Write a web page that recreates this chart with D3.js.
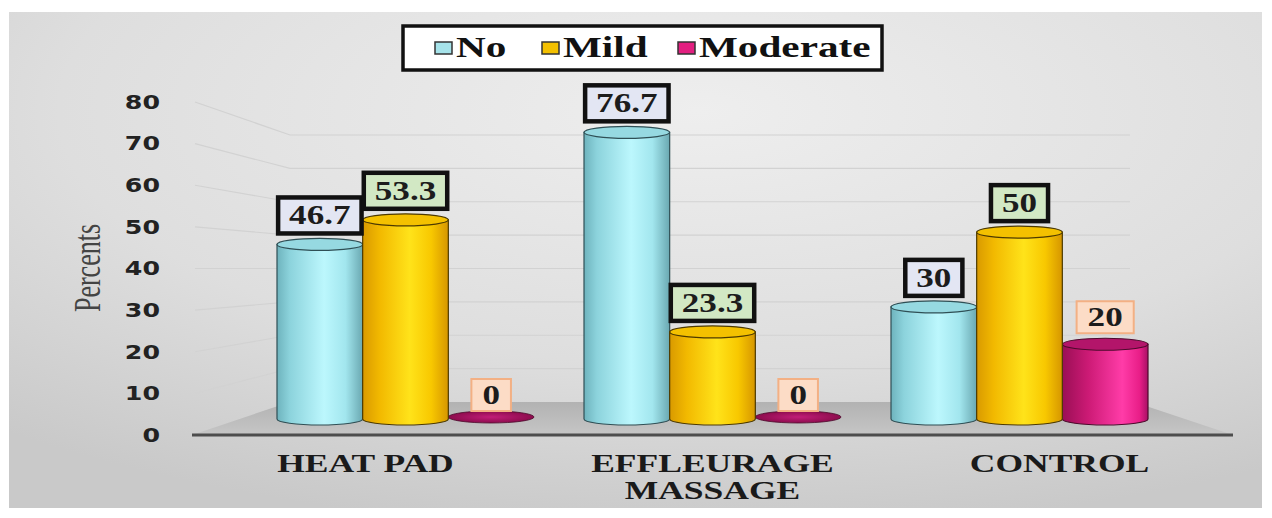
<!DOCTYPE html>
<html><head><meta charset="utf-8">
<script src="https://cdn.jsdelivr.net/npm/d3@7/dist/d3.min.js"></script>
<style>html,body{margin:0;padding:0;background:#fff;}svg{display:block;}</style>
</head><body>
<svg id="c" width="1272" height="518"></svg>
<script>
// ---- data ----
const categories = ["HEAT PAD", "EFFLEURAGE MASSAGE", "CONTROL"];
const categoryLines = [["HEAT PAD"], ["EFFLEURAGE", "MASSAGE"], ["CONTROL"]];
const seriesNames = ["No", "Mild", "Moderate"];
const noValues = [46.7, 76.7, 30];
const mildValues = [53.3, 23.3, 50];
const moderateValues = [0, 0, 20];
const yTicks = [0, 10, 20, 30, 40, 50, 60, 70, 80];
const yTitle = "Percents";

const seriesValues = [noValues, mildValues, moderateValues];
const HS = 1.42; // horizontal stretch of the source picture

const svg = d3.select("#c");
const defs = svg.append("defs");

// background
const bg = defs.append("radialGradient").attr("id", "bg").attr("cx", "0.55").attr("cy", "0.2").attr("r", "0.85");
bg.append("stop").attr("offset", "0").attr("stop-color", "#eeeeee");
bg.append("stop").attr("offset", "0.6").attr("stop-color", "#dedede");
bg.append("stop").attr("offset", "1").attr("stop-color", "#c9c9c9");
svg.append("rect").attr("x", 9).attr("y", 12).attr("width", 1253).attr("height", 496).attr("fill", "url(#bg)");

// scales
const yFront = d3.scaleLinear().domain([0, 80]).range([435, 102]);
const yBack = d3.scaleLinear().domain([0, 80]).range([402, 135]);
const yBar = d3.scaleLinear().domain([0, 80]).range([419, 120]);
const xFront = d3.scaleBand().domain(categories).range([192, 1233]);
const xBack = d3.scaleBand().domain(categories).range([252, 1173]);
const xSeries = d3.scaleBand().domain(seriesNames).range([25, xBack.bandwidth() - 25]);

const wallLeftFront = 195, wallLeftBack = 290, wallRightBack = 1130;

// gridlines (side wall + back wall)
const grid = svg.append("g");
yTicks.filter(v => v > 0).forEach(v => {
  grid.append("path")
    .attr("d", `M${wallLeftFront},${yFront(v)}L${wallLeftBack},${yBack(v)}L${wallRightBack},${yBack(v)}`)
    .attr("fill", "none").attr("stroke", "#d2d2d2").attr("stroke-width", 1.2);
});

// floor
const fl = defs.append("linearGradient").attr("id", "floor").attr("x1", 0).attr("y1", 0).attr("x2", 0).attr("y2", 1);
fl.append("stop").attr("offset", "0").attr("stop-color", "#b2b2b2");
fl.append("stop").attr("offset", "1").attr("stop-color", "#c6c6c6");
const x0 = xFront.range()[0], x1 = xFront.range()[1];
svg.append("path")
  .attr("d", `M${x0},${yFront(0)}L${x1},${yFront(0)}L${1134},${yBack(0)}L${wallLeftBack},${yBack(0)}Z`)
  .attr("fill", "url(#floor)");
svg.append("line").attr("x1", x0).attr("x2", x1).attr("y1", yFront(0)).attr("y2", yFront(0))
  .attr("stroke", "#4d4d4d").attr("stroke-width", 3);

// y axis labels
const yAxisG = svg.append("g");
yTicks.forEach(v => {
  const t = yAxisG.append("text").attr("x", 160).attr("y", yFront(v)).attr("dy", "0.36em")
    .attr("text-anchor", "end").attr("font-family", "DejaVu Sans").attr("font-weight", "bold")
    .attr("font-size", 19).attr("fill", "#222").text(v);
  const w = t.node().getComputedTextLength();
  t.attr("textLength", w * 1.33).attr("lengthAdjust", "spacingAndGlyphs");
});

// y title
svg.append("text").attr("transform", `translate(100,268) scale(${HS},1) rotate(-90)`)
  .attr("text-anchor", "middle").attr("font-family", "Liberation Serif").attr("font-size", 26)
  .attr("fill", "#444").text(yTitle);

// category labels
categoryLines.forEach((lines, i) => {
  lines.forEach((ln, j) => {
    const t = svg.append("text").attr("x", xFront(categories[i]) + xFront.bandwidth() / 2)
      .attr("y", 472 + j * 27).attr("text-anchor", "middle")
      .attr("font-family", "Liberation Serif").attr("font-weight", "bold").attr("font-size", 25)
      .attr("fill", "#1a1a1a").text(ln);
    const w = t.node().getComputedTextLength();
    t.attr("textLength", w * HS).attr("lengthAdjust", "spacingAndGlyphs");
  });
});

// cylinder gradients
const grads = [
  {id: "gNo", stops: [[0, "#6eb3bd"], [0.15, "#8cd3dc"], [0.55, "#bcf7fd"], [0.8, "#a2e6ee"], [1, "#6aa8b1"]], top: "#96d9e1", stroke: "#2f4f55"},
  {id: "gMild", stops: [[0, "#d99a00"], [0.2, "#f2b900"], [0.55, "#ffe31a"], [0.8, "#f8c800"], [1, "#d69600"]], top: "#f4c100", stroke: "#4d3a00"},
  {id: "gMod", stops: [[0, "#9a0f55"], [0.3, "#cc1a75"], [0.7, "#ff3ca8"], [0.9, "#e91e88"], [1, "#a81065"]], top: "#b3156a", stroke: "#4d0a2c"}
];
grads.forEach(g => {
  const lg = defs.append("linearGradient").attr("id", g.id).attr("x1", 0).attr("x2", 1).attr("y1", 0).attr("y2", 0);
  g.stops.forEach(s => lg.append("stop").attr("offset", s[0]).attr("stop-color", s[1]));
});
const zg = defs.append("radialGradient").attr("id", "gZero");
zg.append("stop").attr("offset", "0").attr("stop-color", "#c21d78");
zg.append("stop").attr("offset", "1").attr("stop-color", "#8c0c4d");

// bars
const ry = 6;
const barsG = svg.append("g");
const drawOrder = [0, 2, 1];
categories.forEach((cat, ci) => {
  drawOrder.forEach(si => {
    const v = seriesValues[si][ci];
    const bx = xBack(cat) + xSeries(seriesNames[si]);
    const bw = xSeries.bandwidth();
    const cx = bx + bw / 2;
    const g = grads[si];
    const yt = yBar(v), yb = yBar(0);
    if (v <= 0) {
      barsG.append("ellipse").attr("cx", cx).attr("cy", yb - 2).attr("rx", bw / 2).attr("ry", ry)
        .attr("fill", "url(#gZero)").attr("stroke", g.stroke).attr("stroke-width", 0.8);
      return;
    }
    barsG.append("path")
      .attr("d", `M${bx},${yt}L${bx},${yb}A${bw / 2},${ry} 0 0 0 ${bx + bw},${yb}L${bx + bw},${yt}Z`)
      .attr("fill", `url(#${g.id})`).attr("stroke", g.stroke).attr("stroke-width", 1.2);
    barsG.append("ellipse").attr("cx", cx).attr("cy", yt).attr("rx", bw / 2).attr("ry", ry)
      .attr("fill", g.top).attr("stroke", g.stroke).attr("stroke-width", 1.2);
  });
});

// data labels
const lblStyles = [
  {fill: "#e3e6f3", stroke: "#111", sw: 4.5},
  {fill: "#d2e8c4", stroke: "#111", sw: 4.5},
  {fill: "#fcdcc6", stroke: "#f3b084", sw: 2}
];
const lblG = svg.append("g");
categories.forEach((cat, ci) => {
  seriesNames.forEach((sn, si) => {
    const v = seriesValues[si][ci];
    const cx = xBack(cat) + xSeries(sn) + xSeries.bandwidth() / 2;
    const st = lblStyles[si];
    const t = lblG.append("text").attr("font-family", "Liberation Serif").attr("font-weight", "bold")
      .attr("font-size", 27).attr("fill", "#1c1c1c").attr("text-anchor", "middle").text(String(v));
    const w = t.node().getComputedTextLength() * 1.3;
    t.attr("textLength", w).attr("lengthAdjust", "spacingAndGlyphs");
    const padX = si === 2 ? 11 : 11;
    const bh = si === 2 ? 32 : 36;
    const bwid = w + padX * 2;
    const bottom = yBar(v) - ry - (v > 0 ? 5 : 2);
    lblG.insert("rect", "text").attr("x", cx - bwid / 2).attr("y", bottom - bh)
      .attr("width", bwid).attr("height", bh).attr("fill", st.fill)
      .attr("stroke", st.stroke).attr("stroke-width", st.sw);
    t.attr("x", cx).attr("y", bottom - bh / 2 + 9);
  });
});

// legend
const lg = svg.append("g");
lg.append("rect").attr("x", 403).attr("y", 26).attr("width", 479).attr("height", 44)
  .attr("fill", "#ffffff").attr("stroke", "#111").attr("stroke-width", 3.5);
const legendX = [435, 542, 678];
const legendFill = ["#a6e3ea", "#f3c000", "#e21f80"];
seriesNames.forEach((sn, i) => {
  lg.append("rect").attr("x", legendX[i]).attr("y", 42).attr("width", 17).attr("height", 12)
    .attr("fill", legendFill[i]).attr("stroke", "#333").attr("stroke-width", 1.5);
  const t = lg.append("text").attr("x", legendX[i] + 21).attr("y", 57)
    .attr("font-family", "Liberation Serif").attr("font-weight", "bold").attr("font-size", 29)
    .attr("fill", "#111").text(sn);
  const w = t.node().getComputedTextLength();
  t.attr("textLength", w * HS).attr("lengthAdjust", "spacingAndGlyphs");
});
</script>
</body></html>
